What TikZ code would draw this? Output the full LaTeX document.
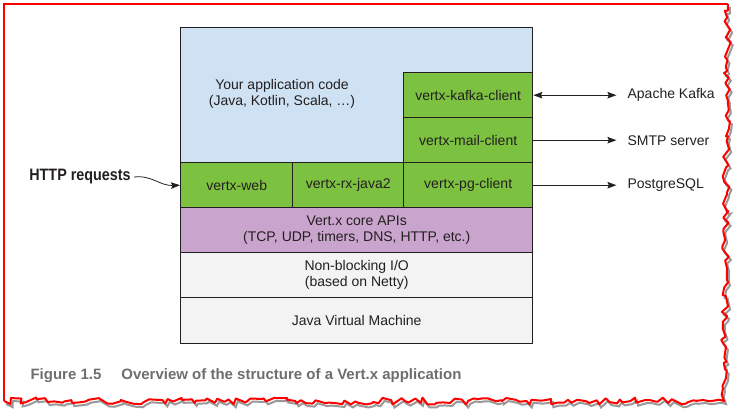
\documentclass[tikz,border=0pt]{standalone}
\usepackage{fontspec}
\setmainfont{Liberation Sans}
\newfontfamily\condfont[FakeStretch=0.87]{Liberation Sans}
\usetikzlibrary{arrows.meta,positioning,decorations.pathmorphing}
\tikzset{>={Stealth[length=9pt,width=6.5pt,inset=1.5pt]}}
\definecolor{appblue}{RGB}{207,226,243}
\definecolor{libgreen}{RGB}{124,194,64}
\definecolor{corepurple}{RGB}{201,164,204}
\definecolor{iogray}{RGB}{242,243,242}
\definecolor{ink}{RGB}{35,31,32}
\definecolor{capgray}{RGB}{109,110,113}
\colorlet{frameRed}{red}

\begin{document}
\begin{tikzpicture}[x=1pt,y=-1pt,
	layer/.style={draw=ink,line width=1.4pt,anchor=north west,inner sep=0pt,text=ink,align=center,font=\fontsize{14}{16}\selectfont},
	ext/.style={inner xsep=11pt,text=ink,font=\fontsize{14}{16}\selectfont},
	torn/.style={line width=2pt,decorate,decoration={random steps,segment length=5pt,amplitude=3.5pt}}]
	\useasboundingbox (0,0) rectangle (741,417);
	% frame
	\pgfmathsetseed{5}
	\draw[torn,black!40,shift={(2,3)}] (728,4) -- (724,401) -- (4,401);
	\pgfmathsetseed{5}
	\draw[torn,frameRed,line join=round] (728,4) -- (724,401) -- (4,401);
	\draw[frameRed,line width=2pt] (4,401) -- (4,4) -- (728,4);
	
	\node[layer,fill=appblue,minimum width=352pt,minimum height=135pt] (app) at (180,27) {};
	\node[text=ink,align=center,font=\fontsize{14}{16}\selectfont] (apptext) at (282,94) {Your application code\\(Java, Kotlin, Scala, …)};
	\node[layer,fill=libgreen,minimum width=112pt,minimum height=45pt] (web) at (180,162) {vertx-web};
	\node[layer,fill=libgreen,minimum width=111pt,minimum height=45pt] (rxjava) at (292,162) {vertx-rx-java2};
	\node[layer,fill=libgreen,minimum width=129pt,minimum height=45pt] (pgclient) at (403,162) {vertx-pg-client};
	\node[layer,fill=libgreen,minimum width=129pt,minimum height=45pt] (mailclient) at (403,117) {vertx-mail-client};
	\node[layer,fill=libgreen,minimum width=129pt,minimum height=45pt] (kafkaclient) at (403,72) {vertx-kafka-client};
	\node[layer,fill=corepurple,minimum width=352pt,minimum height=45pt] (core) at (180,207) {Vert.x core APIs\\(TCP, UDP, timers, DNS, HTTP, etc.)};
	\node[layer,fill=iogray,minimum width=352pt,minimum height=45pt] (nio) at (180,252) {Non-blocking I/O\\(based on Netty)};
	\node[layer,fill=iogray,minimum width=352pt,minimum height=46pt] (jvm) at (180,297) {Java Virtual Machine};
	
	\node[ext,right=83pt of kafkaclient] (kafka) {Apache Kafka};
	\node[ext,right=83pt of mailclient] (smtp) {SMTP server};
	\node[ext,right=83pt of pgclient] (pg) {PostgreSQL};
	\draw[<->,line width=0.8pt,ink] (kafkaclient.east) -- (kafka.west);
	\draw[->,line width=0.8pt,ink] (mailclient.east) -- (smtp.west);
	\draw[->,line width=0.8pt,ink] (pgclient.east) -- (pg.west);
	
	\node[text=ink,font=\condfont\fontsize{16.5}{18}\bfseries] (http) at (80,177) {HTTP requests};
	\draw[->,line width=0.8pt,ink] (http.east) .. controls (152,175) and (160,186) .. (web.west);
	
	\node[anchor=west,text=capgray,font=\fontsize{15}{18}\bfseries] (caption) at (27,376) {Figure 1.5\hspace{20pt}Overview of the structure of a Vert.x application};
\end{tikzpicture}
\end{document}
